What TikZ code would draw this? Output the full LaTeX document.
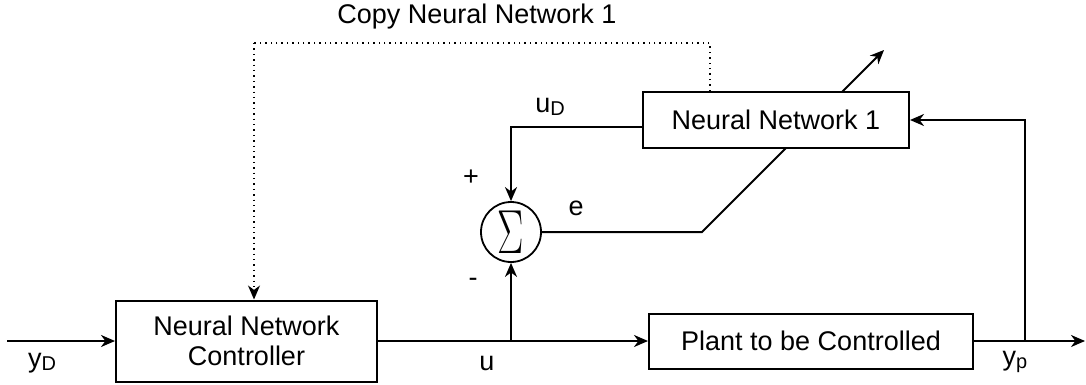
\documentclass[tikz,border=0pt]{standalone}
\usepackage{graphicx}
\usepackage{fontspec}
\setmainfont{Liberation Sans}
\usetikzlibrary{arrows.meta,backgrounds}
\newcommand{\mysub}[1]{\raisebox{-0.25ex}{\fontsize{10}{12}\selectfont #1}}
\begin{document}
\begin{tikzpicture}[x=0.5pt,y=-0.5pt,
  font=\fontsize{13.5}{15}\selectfont,
  blk/.style={draw, line width=1pt, fill=white, inner sep=0pt},
  wire/.style={line width=1pt},
  arr/.style={wire, -{Stealth[length=7pt,width=6pt,inset=2.2pt]}},
  dots/.style={dotted, line width=0.7pt},
  lbl/.style={inner sep=0pt}]
\useasboundingbox (0,0) rectangle (1086,385);
% blocks
\node[blk, minimum width=130.5pt, minimum height=40.5pt, align=center] (nnc) at (246.5,341) {Neural Network\\Controller};
\node[blk, minimum width=162pt, minimum height=27.5pt] (plant) at (811,341) {Plant to be Controlled\hspace{9pt}};
\node[blk, minimum width=133pt, minimum height=28pt] (nn1) at (776,120) {Neural Network 1\hspace{6pt}};
\node[draw, circle, line width=0.9pt, fill=white, minimum size=30pt, inner sep=0pt] (sum) at (511,232)
  {\scalebox{0.95}[1.5]{\fontsize{20}{20}\selectfont$\Sigma$}};
% coordinates
\coordinate (in) at (7,341);
\coordinate (br) at (sum |- plant.west);
\coordinate (fb) at (1025,341);
\coordinate (out) at (1085,341);
\coordinate (bend) at (702,232);
\coordinate (adj) at (884,50);
\coordinate (dr) at (710,43);
\coordinate (dl) at (254,43);
% main path
\draw[arr] (in) -- (nnc.west);
\draw[arr] (nnc.east) -- (plant.west);
\draw[arr] (plant.east) -- (out);
\draw[arr] (br) -- (sum.south);
\draw[arr] (fb) |- (nn1.east);
\draw[arr] ([yshift=-3.5pt]nn1.west) -| (sum.north);
\begin{pgfonlayer}{background}
\draw[arr] (sum.east) -- (bend) -- (adj);
\end{pgfonlayer}
\draw[dots] (nn1.north -| dr) -- (dr) -- (dl);
\draw[dots, -{Stealth[length=7pt,width=6pt,inset=2.2pt]}] (dl) -- (dl |- nnc.north);
% labels
\node[lbl] (copy) at (477,17) {Copy Neural Network 1};
\node[lbl] (lud) at (550,107) {u\mysub{D}};
\node[lbl] (lplus) at (471,178) {+};
\node[lbl] (lminus) at (473,282) {-};
\node[lbl] (le) at (576,208) {e};
\node[lbl] (lu) at (487,363) {u};
\node[lbl] (lyd) at (42,363) {y\mysub{D}};
\node[lbl] (lyp) at (1015,362) {y\mysub{p}};
\end{tikzpicture}
\end{document}
